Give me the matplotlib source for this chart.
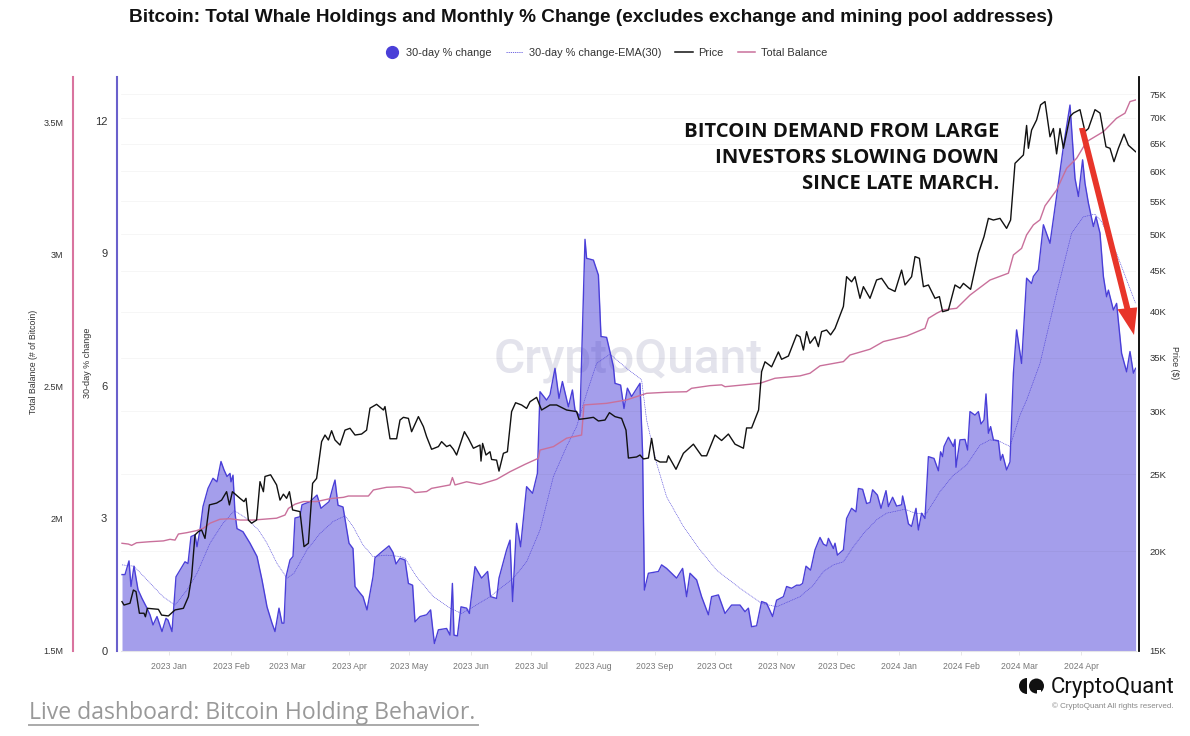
import matplotlib
matplotlib.use('Agg')
import matplotlib.pyplot as plt
import pandas as pd
from matplotlib.lines import Line2D
from matplotlib.patches import Wedge, Circle, Rectangle
from matplotlib.ticker import NullFormatter, NullLocator

# days counted from the first day of the chart
start_date = '2022-12-08'
end_day = 507.5

change_days = [0.5, 2, 4, 5, 6.5, 8.5, 10.5, 13, 14.5, 16, 18, 20.5, 22.5, 23.5, 25.5, 27.5, 30, 32, 33.5, 35,
               37, 38, 39.5, 41, 43.5, 46, 48, 50, 51.5, 53, 54.5, 55, 56, 57, 58, 61, 64.5, 68, 70.5, 73,
               75.5, 77, 79, 80.5, 81.5, 82.5, 84.5, 86, 87, 89.5, 90.5, 94.5, 98, 100, 104, 106, 107, 108.5, 111, 114,
               116, 117, 119, 121, 123, 126, 127, 130, 134, 136, 137.5,
               139.5, 142, 143.7, 145.8, 147, 149.5, 152.8, 154.8, 156.7, 158.7, 162.8, 164.5, 165.7, 166.5, 168.2, 170, 172.8, 174.2, 177, 180.3,
               183.3, 184.8, 187.8, 189, 192.8, 194.5, 195.8, 197.8, 199.8, 202.8, 205.8, 208.2, 209.5, 212.8, 214.5, 217, 219, 220.7, 223.7, 225.7,
               227, 229.5, 232, 232.8, 236.2, 238.7, 240, 242.8, 246.2, 247, 249.8, 251.5, 253.2, 255.3, 259.5, 260.8, 261.7, 263.7, 268.7, 270.3,
               272.8, 277.8, 280.8, 282.8, 284.5, 287.8, 290.3, 293.7, 295.3, 298.7, 302, 305.3, 309.5, 312, 313.7, 315.3, 317.8, 320.3, 322.8, 325.8,
               327.8, 331.2, 332.8, 335.3, 337.8,
               339.5, 340.8, 342.5, 344.8, 347, 349.5, 351.2, 352.8, 353.7, 356.2, 357, 358.2, 361.2, 362.8, 365.3, 367.5, 368.7, 370.8, 372.8, 374.5,
               375.8, 378.2, 380, 382.5, 383.7, 385.8, 387.8, 390.3, 390.8, 392, 393.7, 395.3, 397.5, 398.7, 400.3, 402, 403.7, 406.5, 408.7, 409.8,
               410.8, 411.5, 413.7, 416.2, 417, 417.5, 419.5, 422, 423.3, 424.5, 427, 428.7, 430, 431.5, 432.5, 433.7, 434.8, 436.2, 438.7, 439.8,
               440.8, 442.8, 444.5, 446.2, 447.8, 450.3, 452.8, 455.3, 456.2, 458.7, 461.2, 464.5, 468.7, 471.2, 474.5, 477, 478.7, 480.8, 482, 483.7,
               486.2, 487.5, 489.5, 491.2, 492.8, 493.7, 496.2, 497.8, 500.3, 502.8, 504.5, 506.2, 507.3]
change_values = [1.73, 1.73, 2.04, 1.46, 1.92, 1.39, 1.19, 0.97, 0.82, 0.59, 0.78, 0.44, 0.74, 0.70, 0.44, 1.68, 1.87, 2.02, 1.98, 2.59,
                 2.63, 2.36, 2.74, 3.27, 3.68, 3.91, 3.83, 4.29, 4.10, 3.95, 4.02, 3.83, 3.98, 3.12, 2.77, 2.70, 2.44, 2.14, 1.61, 1.00,
                 0.63, 0.44, 0.97, 0.63, 0.63, 1.68, 2.06, 2.14, 3.01, 3.04, 3.31, 3.38, 3.53, 3.23, 3.38, 3.72, 3.87, 3.30, 3.26, 2.44,
                 2.32, 1.46, 1.34, 1.23, 0.93, 1.68, 2.11, 2.23, 2.38, 2.23, 1.97,
                 2.10, 2.06, 1.53, 1.49, 0.66, 0.78, 0.82, 0.93, 0.17, 0.48, 0.51, 0.36, 1.53, 0.36, 0.34, 1.00, 0.97, 0.85, 1.91, 1.65,
                 1.80, 1.23, 1.19, 1.65, 2.29, 2.51, 1.12, 2.89, 2.36, 3.72, 3.57, 4.02, 5.87, 5.68, 5.80, 6.40, 5.72, 6.10, 5.53, 5.91,
                 5.46, 5.31, 9.32, 8.89, 8.85, 8.51, 7.12, 7.10, 6.44, 6.06, 6.02, 5.49, 5.95, 5.76, 6.06, 4.48, 1.38, 1.76, 1.80, 1.95,
                 1.87, 1.65, 1.87, 1.23, 1.76, 1.61, 1.23, 0.82, 1.23, 1.27, 0.85, 1.04, 1.04, 0.89, 0.97, 0.55, 0.57, 1.12, 1.08, 0.78,
                 1.15, 1.23, 1.46, 1.42, 1.49,
                 1.49, 1.53, 1.92, 1.83, 2.29, 2.57, 2.42, 2.38, 2.55, 2.32, 2.44, 2.17, 2.29, 3.00, 3.23, 3.15, 3.68, 3.66, 3.34, 3.36,
                 3.65, 3.53, 3.23, 3.63, 3.27, 3.48, 3.28, 3.31, 3.51, 3.27, 2.88, 2.82, 3.23, 2.74, 3.12, 3.00, 4.40, 4.36, 4.08, 4.51,
                 4.40, 4.63, 4.84, 4.63, 4.79, 4.16, 4.78, 4.79, 4.55, 5.42, 5.34, 5.42, 5.14, 5.23, 5.82, 4.93, 5.08, 4.78, 4.76, 4.32,
                 4.45, 4.10, 4.28, 6.29, 7.27, 6.51, 8.44, 8.32, 8.48, 8.63, 9.65, 9.23, 10.59, 11.42, 12.36, 10.70, 10.29, 11.12, 10.59, 10.14,
                 9.61, 9.83, 9.46, 8.48, 8.02, 8.17, 7.72, 7.87, 6.74, 6.32, 6.78, 6.29, 6.40]

ema_days = [0.5, 6.5, 13, 21, 27, 33, 38, 44.5, 51, 56.7, 62.8, 68.7, 73, 78, 83, 86.5, 93, 99.5, 106, 112,
            116, 121, 126, 132.8, 139.5, 142, 147.8, 156.2, 164.5, 170.3, 176.2, 184.5, 196.2, 202.8, 209.5, 216.2, 222.8, 227.8, 232.8, 237.8,
            244.5, 252.8, 260.3, 262.8, 267.8, 272.8, 281.2, 289.5, 297.8, 309.5, 320.3, 327.8, 339.5, 346.2, 351.2, 356.2, 361.2, 366.2, 371.2, 377.8,
            382.8, 392, 397, 402.5, 409.5, 416.2, 422.8, 429.5, 434.5, 439.5, 444.5, 449.5, 452.8, 459.5, 467.8, 475.3, 481.2, 487, 490.3, 497.8, 507.3]
ema_values = [1.95, 1.92, 1.61, 1.23, 1.04, 1.38, 1.76, 2.44, 2.89, 3.18, 3.00, 2.74, 2.44, 1.98, 1.65, 1.76, 2.29, 2.66, 2.93, 3.06,
              2.82, 2.40, 2.14, 2.17, 2.14, 2.10, 1.68, 1.23, 0.97, 0.85, 1.00, 1.23, 1.65, 2.02, 2.74, 3.95, 4.63, 5.08, 5.83, 6.51,
              6.72, 6.40, 6.14, 5.23, 4.25, 3.49, 2.82, 2.29, 1.83, 1.42, 1.08, 1.00, 1.23, 1.49, 1.80, 1.95, 2.02, 2.36, 2.66, 2.97,
              3.12, 3.21, 3.12, 3.10, 3.61, 3.98, 4.21, 4.66, 4.78, 4.74, 4.63, 5.34, 5.68, 6.51, 8.10, 9.46, 9.83, 9.89, 9.72, 9.00, 7.87]

price_days = [0.5, 1.5, 4.5, 6.2, 7.5, 9.2, 11.5, 12.2, 13.2, 18.7, 20.3, 23.7, 27, 31.2, 33.7, 35.3, 37, 38.7, 40.3, 42,
              44.2, 47.8, 50.3, 52.8, 54.2, 55.7, 59.5, 61.5, 62.5, 63.7, 65.3, 67.8, 69.5, 71.2, 72, 74.8, 77.8, 79.5, 81.2, 82.8,
              84.2, 85.8, 89.5, 91.5, 93.7, 95.8, 97.8, 100.3, 102, 103.7, 105.3, 107, 109.5, 112, 114.5, 117, 120.3, 122.8, 124.5, 127.8,
              131.2, 132, 134.5, 137.8,
              139.5, 141.2, 143.7, 145.3, 148.7, 151.2, 152.8, 155.3, 158.7, 160.3, 162.8, 164.5, 166.2, 167.8, 171.7, 173.7, 176.2, 179.5, 180, 180.8,
              182.5, 184.5, 185.3, 187.8, 189, 191.2, 193.2, 195.3, 197.3, 200.3, 202.8, 204.5, 207.8, 210.3, 214.5, 217.8, 222.8, 227.8, 229, 232.8,
              236.2, 238.7, 242, 244.2, 247, 250.3, 252.5, 253.7, 257.8, 259.5, 261.2, 263.7, 265.3, 267, 269.5, 272.8, 273.7, 277.5, 281.2, 286.2,
              290.3, 292.8, 297, 300.3, 303.7, 307, 311.2, 312.8, 315.3, 318.8, 320.3, 322, 325.3, 328.7, 330.3, 333.7, 337.8,
              339.5, 341.2, 342.8, 344.5, 347, 348.7, 350.3, 352.8, 354.8, 357, 359.2, 361.2, 362.8, 365.3, 367, 369.5, 371.2, 374.5, 377.8, 380.3,
              383.7, 387, 390.3, 392, 395.3, 397, 399.2, 401.2, 403.7, 407, 409.2, 410.8, 413.7, 417, 419.5, 421.2, 424.8, 428.7, 431.5, 433.7,
              436.2, 439.5, 442.8, 444.8, 447, 449.5, 451.2, 452.8, 453.7, 455.3, 457.8, 459.8, 462, 464.5, 466.2, 467.8, 469.5, 471.2, 474.5, 476.2,
              479.5, 482, 483.7, 487, 489.5, 492.5, 494.5, 496.5, 498.7, 501.5, 503.7, 507.3]
price_values = [17.30, 17.13, 17.22, 17.89, 17.81, 16.73, 16.73, 16.56, 16.97, 16.92, 16.64, 16.60, 16.89, 16.97, 17.55, 18.59, 20.98, 21.18, 21.28, 20.77,
                22.88, 23.0, 23.2, 23.77, 22.88, 23.77, 23.32, 23.1, 23.32, 21.9, 21.7, 21.9, 24.47, 23.77, 24.84, 24.96, 24.24, 23.2, 23.6, 23.32,
                23.77, 22.55, 22.44, 20.28, 20.48, 24.35, 24.7, 27.47, 28.0, 27.6, 28.35, 27.6, 27.2, 28.4, 28.55, 28.0, 28.08, 28.4, 30.26, 30.6,
                30.1, 30.4, 27.7, 27.7,
                29.24, 29.47, 29.38, 28.27, 29.53, 28.69, 27.87, 26.87, 27.08, 27.47, 27.08, 27.2, 26.87, 26.43, 28.27, 27.73, 26.95, 27.2, 25.97, 27.33,
                26.43, 26.68, 26.09, 26.04, 25.23, 26.56, 26.68, 29.96, 30.74, 30.54, 30.24, 30.83, 31.22, 30.1, 30.54, 30.54, 30.1, 29.96, 29.3, 29.38,
                29.47, 29.16, 29.24, 29.87, 29.53, 29.38, 28.4, 26.2, 26.28, 26.43, 26.13, 26.2, 27.73, 26.09, 25.9, 25.9, 26.37, 25.36, 26.56, 27.27,
                26.37, 26.37, 28.0, 27.56, 28.08, 27.27, 26.95, 28.58, 28.58, 30.1, 33.63, 34.6, 34.1, 35.6, 34.85, 35.18, 37.4,
                37.2, 35.8, 37.75, 36.5, 37.2, 36.15, 37.75, 37.93, 37.4, 38.1, 39.4, 40.6, 44.25, 43.6, 44.25, 41.57, 42.99, 41.57, 43.83, 44.04,
                42.8, 42.4, 45.1, 43.2, 44.25, 46.89, 46.66, 42.99, 43.2, 41.57, 41.77, 39.99, 40.18, 43.2, 42.8, 43.4, 42.66, 47.34, 49.67, 52.37,
                52.12, 52.37, 50.88, 52.12, 61.4, 62.3, 62.9, 68.5, 64.13, 67.6, 69.6, 72.7, 73.4, 66.3, 67.9, 63.1, 67.9, 64.13, 70.3, 71.0,
                71.7, 67.3, 67.9, 71.7, 71.0, 64.4, 64.13, 61.7, 64.13, 66.8, 64.7, 63.5]

balance_days = [0.5, 3.7, 5.3, 7.8, 14.5, 21.2, 24.5, 27, 28.7, 32.8, 37.8, 41.2, 44.5, 49.5, 54.5, 59.5, 66.2, 72.8, 77.8, 82,
                83.7, 87, 91.2, 97.8, 104.5, 111.2, 113.7, 123.7, 126.2, 132.8, 139.5, 144.5, 147, 152.8, 155.3, 164.5, 165.7, 167, 172.8, 179.5,
                187.8, 194.5, 202, 208.7, 209.5, 216.2, 222.8, 230.3, 231.5, 242.8, 252.8, 262.8, 272.8, 282.8, 285.3, 294.5, 300.3, 302, 319.5, 327,
                339.5, 344.5, 349.5, 361.2, 364.5, 374.5, 381.2, 392.8, 402, 403.7, 407.8, 411.2, 417.8, 424.5, 434.5, 443.7, 446.2, 450.3, 452.8, 456.2,
                459.5, 462, 467.8, 472.8, 477.8, 482.8, 491.2, 497.8, 502, 504.5, 507.3]
balance_values = [1.908, 1.905, 1.900, 1.910, 1.914, 1.917, 1.923, 1.920, 1.943, 1.948, 1.956, 1.965, 1.984, 1.999, 2.001, 1.996, 1.996, 2.000, 2.003, 2.015,
                  2.040, 2.056, 2.066, 2.066, 2.077, 2.082, 2.087, 2.087, 2.110, 2.120, 2.122, 2.116, 2.100, 2.104, 2.116, 2.129, 2.157, 2.129, 2.141, 2.131,
                  2.150, 2.179, 2.207, 2.230, 2.261, 2.274, 2.306, 2.318, 2.432, 2.438, 2.451, 2.476, 2.480, 2.482, 2.495, 2.505, 2.508, 2.501, 2.514, 2.533,
                  2.542, 2.552, 2.580, 2.596, 2.621, 2.643, 2.672, 2.693, 2.722, 2.760, 2.779, 2.792, 2.798, 2.848, 2.905, 2.931, 3.000, 3.025, 3.076, 3.114,
                  3.133, 3.186, 3.246, 3.328, 3.366, 3.429, 3.467, 3.518, 3.537, 3.581, 3.587]

month_ticks = ['2023-01-01', '2023-02-01', '2023-03-01', '2023-04-01', '2023-05-01', '2023-06-01', '2023-07-01', '2023-08-01',
               '2023-09-01', '2023-10-01', '2023-11-01', '2023-12-01', '2024-01-01', '2024-02-01', '2024-03-01', '2024-04-01']
month_labels = ['2023 Jan', '2023 Feb', '2023 Mar', '2023 Apr', '2023 May', '2023 Jun', '2023 Jul', '2023 Aug',
                '2023 Sep', '2023 Oct', '2023 Nov', '2023 Dec', '2024 Jan', '2024 Feb', '2024 Mar', '2024 Apr']
change_ticks = [0, 3, 6, 9, 12]
balance_ticks = [1.5, 2, 2.5, 3, 3.5]
balance_labels = ['1.5M', '2M', '2.5M', '3M', '3.5M']
price_ticks = [15, 20, 25, 30, 35, 40, 45, 50, 55, 60, 65, 70, 75]
price_labels = ['15K', '20K', '25K', '30K', '35K', '40K', '45K', '50K', '55K', '60K', '65K', '70K', '75K']

PURPLE = '#4A3FD8'
PINK = '#C9709B'
W, H = 1190, 736


def to_dates(days):
    return pd.Timestamp(start_date) + pd.to_timedelta(days, unit='D')


plt.rcParams['font.family'] = ['Liberation Sans', 'DejaVu Sans']

fig = plt.figure(figsize=(W / 100, H / 100), dpi=100)
ax = fig.add_axes([121 / W, 1 - 651 / H, (1136 - 121) / W, (651 - 77) / H])
ax_balance = ax.twinx()
ax_price = ax.twinx()

# watermark goes under everything
ax.text(628.5 / W, 1 - 360 / H, 'CryptoQuant', transform=fig.transFigure, family='Roboto', fontweight='medium', fontsize=34.5,
        color='#E3E3EC', ha='center', va='center', zorder=0)

ax.fill_between(to_dates(change_days), change_values, 0, color=PURPLE, alpha=0.5, linewidth=0, zorder=2)
ax.plot(to_dates(change_days), change_values, color=PURPLE, lw=1.0, zorder=3)
ax.plot(to_dates(ema_days), ema_values, color=PURPLE, lw=0.45, linestyle=(0, (1.6, 1.2)), zorder=4)
ax_balance.plot(to_dates(balance_days), balance_values, color=PINK, lw=1.0)
ax_price.plot(to_dates(price_days), price_values, color='#111111', lw=1.0)

ax.set_xlim(to_dates(0), to_dates(end_day))
ax.set_ylim(0, 12.995)
ax_balance.set_ylim(1.5, 3.674)
ax_price.set_yscale('log')
ax_price.set_ylim(15, 78.8)

ax.set_xticks(pd.to_datetime(month_ticks))
ax.set_xticklabels(month_labels, fontsize=6.2, color='#777777')
ax.tick_params(axis='x', length=3, width=0.5, color='#dddddd', pad=5)

ax.set_yticks(change_ticks)
ax.tick_params(axis='y', length=0, pad=7, labelsize=8, labelcolor='#333333')
ax_balance.yaxis.set_label_position('left')
ax_balance.yaxis.tick_left()
ax_balance.set_yticks(balance_ticks)
ax_balance.set_yticklabels(balance_labels)
ax_balance.tick_params(axis='y', length=0, pad=7, labelsize=6.5, labelcolor='#333333')

ax_price.yaxis.set_minor_locator(NullLocator())
ax_price.yaxis.set_minor_formatter(NullFormatter())
ax_price.set_yticks(price_ticks)
ax_price.set_yticklabels(price_labels)
ax_price.tick_params(axis='y', length=0, pad=7.5, labelsize=6.8, labelcolor='#333333')
ax_price.grid(axis='y', color='#000000', alpha=0.045, lw=0.6)
ax_price.set_axisbelow(True)

for a in (ax, ax_balance, ax_price):
    for side in a.spines:
        a.spines[side].set_visible(False)
ax.spines['bottom'].set_visible(True)
ax.spines['bottom'].set_color('#e4e4e8')
ax.spines['bottom'].set_linewidth(0.8)
ax.spines['left'].set_visible(True)
ax.spines['left'].set_position(('outward', 2.9))
ax.spines['left'].set_color('#6A60CC')
ax.spines['left'].set_linewidth(1.5)
ax_balance.spines['left'].set_visible(True)
ax_balance.spines['left'].set_position(('outward', 34.6))
ax_balance.spines['left'].set_color('#D9749F')
ax_balance.spines['left'].set_linewidth(1.5)
ax_price.spines['right'].set_visible(True)
ax_price.spines['right'].set_position(('outward', 2.2))
ax_price.spines['right'].set_color('#000000')
ax_price.spines['right'].set_linewidth(1.3)

fig.text(34 / W, 1 - 362 / H, 'Total Balance (# of Bitcoin)', rotation=90, fontsize=6.3, color='#333333', ha='center', va='center')
fig.text(87 / W, 1 - 363 / H, '30-day % change', rotation=90, fontsize=6.5, color='#333333', ha='center', va='center')
fig.text(1174 / W, 1 - 363 / H, 'Price ($)', rotation=270, fontsize=6.3, color='#333333', ha='center', va='center')

fig.text(591.5 / W, 1 - 17.5 / H, 'Bitcoin: Total Whale Holdings and Monthly % Change (excludes exchange and mining pool addresses)',
         fontsize=13.7, fontweight='bold', color='#111111', ha='center', va='center')

handles = [Line2D([], [], marker='o', linestyle='none', color=PURPLE, markersize=8.5),
           Line2D([], [], color=PURPLE, lw=0.55, linestyle=(0, (1.6, 1.2))),
           Line2D([], [], color='#111111', lw=1.1),
           Line2D([], [], color=PINK, lw=1.1)]
names = ['30-day % change', '30-day % change-EMA(30)', 'Price', 'Total Balance']
fig.legend(handles, names, ncol=4, frameon=False, fontsize=7.9, loc='center', bbox_to_anchor=(605 / W, 1 - 53 / H),
           handlelength=1.6, columnspacing=1.3, handletextpad=0.5, labelcolor='#333333')

fig.text(999 / W, 1 - 158 / H, 'BITCOIN DEMAND FROM LARGE\nINVESTORS SLOWING DOWN\nSINCE LATE MARCH.',
         family='Open Sans', fontweight='bold', fontsize=14.6, color='#111111', ha='right', va='center', linespacing=1.43)

# red arrow over the falling part
fig.add_artist(matplotlib.patches.FancyArrow(1082 / W, 1 - 128 / H, 52 / W, -207 / H, width=6 / W, head_width=20 / W,
                                             head_length=27 / H, length_includes_head=True, color='#E8352A',
                                             linewidth=0, transform=fig.transFigure))

# logo
logo = fig.add_axes([1017 / W, 1 - 696 / H, 28 / W, 20 / H])
logo.set_xlim(0, 28)
logo.set_ylim(0, 20)
logo.axis('off')
logo.add_patch(Wedge((10, 10), 8, 90, 270, color='#111111', linewidth=0))
logo.add_patch(Circle((19.5, 10), 7.5, color='#111111', linewidth=0))
logo.add_patch(Rectangle((19.5, 2), 4, 4.5, color='white', linewidth=0))

fig.text(1174 / W, 1 - 687 / H, 'CryptoQuant', family='Roboto', fontsize=16, color='#111111', ha='right', va='center')
fig.text(1174 / W, 1 - 706 / H, '© CryptoQuant All rights reserved.', fontsize=5.8, color='#888888', ha='right', va='center')

fig.text(29 / W, 1 - 713 / H, 'Live dashboard: Bitcoin Holding Behavior.', family='Open Sans', fontsize=16.6, color='#999999', ha='left', va='center')
fig.add_artist(Line2D([29 / W, 478 / W], [1 - 724.5 / H, 1 - 724.5 / H], color='#aaaaaa', lw=1.4))

fig.savefig('out.png', dpi=100)
